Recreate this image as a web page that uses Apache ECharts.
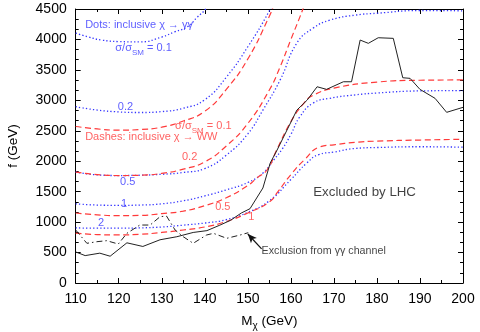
<!DOCTYPE html>
<html><head><meta charset="utf-8">
<script src="https://cdn.jsdelivr.net/npm/echarts/dist/echarts.min.js"></script>
<style>html,body{margin:0;padding:0;background:#fff}#c{width:480px;height:332px}</style>
</head><body><div id="c"></div>
<script>
// ---- data ----
const xRange = [110, 200];
const yRange = [0, 4500];
// blue dotted: inclusive chi -> gamma gamma, sigma/sigma_SM contours
const gg01 = [[110,4105],[113,4040],[116,3990],[120,3965],[125,3960],[130,4040],[133,4125],[136,4210],[138.3,4370],[140.2,4500],[141,4620]];
const gg02 = [[110,2895],[115,2840],[120,2810],[125,2800],[130,2815],[135,2870],[140,3010],[145,3380],[150,3880],[155,4470],[156,4650]];
const gg05 = [[110,1823],[115,1775],[120,1765],[125,1770],[130,1785],[135,1815],[140,1880],[145,2100],[150,2450],[153.5,2840],[157.5,3333],[161.4,3941],[165.2,4187],[169.1,4318],[175,4400],[180,4430],[190,4475],[200,4470]];
const gg1  = [[110,1300],[115,1280],[120,1275],[125,1280],[130,1300],[135,1350],[140,1430],[145,1530],[150,1650],[153.5,1806],[156,2020],[158,2200],[160,2440],[162.1,2731],[165.2,2956],[169,3033],[175,3090],[180,3120],[190,3155],[200,3160]];
const gg2  = [[110,905],[115,900],[120,900],[125,905],[130,920],[135,950],[140,985],[145,1040],[150,1160],[155,1350],[160,1700],[163.7,1970],[166.5,2110],[170,2150],[175,2210],[180,2225],[190,2238],[200,2230]];
// red dashed: inclusive chi -> WW
const ww01 = [[110,2570],[115,2530],[120,2510],[125,2520],[130,2560],[135,2660],[140,2820],[145,3180],[150,3680],[155,4380],[156,4560]];
const ww02 = [[110,1820],[115,1780],[120,1765],[125,1770],[130,1800],[135,1870],[140,1990],[145,2250],[150,2620],[155,3170],[157.5,3550],[160,4000],[162.7,4480],[163.5,4650]];
const ww05 = [[110,1150],[115,1120],[120,1105],[125,1110],[130,1140],[135,1180],[140,1270],[145,1400],[150,1600],[152,1720],[154.5,1860],[156.7,2184],[160,2650],[163,2950],[165,3077],[170,3200],[180,3300],[190,3330],[200,3335]];
const ww1  = [[110,820],[115,795],[120,790],[125,800],[130,830],[135,870],[140,920],[145,1010],[150,1150],[155,1330],[157,1500],[160,1780],[163.1,2020],[166.8,2238],[170,2270],[175,2310],[180,2330],[190,2348],[200,2360]];
// black solid: excluded by LHC
const lhc = [[110,510],[112.2,450],[115.6,490],[118,440],[121.9,660],[125.6,600],[129.6,710],[133.5,760],[137.3,830],[140.5,860],[143.5,950],[146,1030],[148.5,1150],[150.5,1220],[153.5,1560],[155.2,1970],[156.8,2184],[161.4,2840],[163.8,3005],[166.1,3223],[168.3,3180],[172.2,3305],[174.1,3305],[176.1,3990],[178,3936],[180.3,4028],[183.8,4018],[186,3371],[187.7,3361],[190,3180],[193.5,3033],[196.2,2803],[200,2885]];
// black dash-dot: exclusion from gamma gamma channel
const ggExcl = [[110,870],[112.6,652],[114.9,678],[117.2,695],[119.9,640],[121.9,816],[124.9,952],[127.3,952],[129.6,1089],[131.1,1100],[133.1,870],[135,760],[137.3,652],[140.4,788],[142,816],[145.1,734],[148.2,788],[150.1,826]];
const arrowFrom = [153.2, 560];
const arrowTo = [150.0, 805];

const BLUE = '#3535ff', RED = '#ff3a3a', FONT = 'Liberation Sans, Arial, sans-serif';

// annotation texts: [x, y, text, color, size, hasSubscript]
const notes = [
  [112.2, 4236, 'Dots: inclusive χ → γγ', BLUE, 11, false],
  [119.2, 3859, 'σ/σ{s|SM}{n| = 0.1}', BLUE, 11, true],
  [119.8, 2890, '0.2', BLUE, 11, false],
  [133.1, 2578, 'σ/σ{s|SM}{n| = 0.1}', RED, 11, true],
  [112.2, 2397, 'Dashes: inclusive χ → WW', RED, 11, false],
  [134.7, 2069, '0.2', RED, 11, false],
  [120.3, 1658, '0.5', BLUE, 11, false],
  [120.5, 1297, '1', BLUE, 11, false],
  [142.4, 1248, '0.5', RED, 11, false],
  [115.2, 985, '2', BLUE, 11, false],
  [150.1, 1084, '1', RED, 11, false],
  [165.2, 1494, 'Excluded by LHC', '#111', 13.3, false],
  [153.2, 525, 'Exclusion from γγ channel', '#111', 10.7, false]
];

function curve(name, data, color, dash, width, smooth) {
  return {name, type:'line', data, showSymbol:false, symbol:'none', smooth: smooth,
    lineStyle:{color, width, type:dash, cap:'butt'}, silent:true, animation:false, z:3};
}

const series = [
  curve('gg01', gg01, BLUE, [1.3,2.2], 1.3, 0.5),
  curve('gg02', gg02, BLUE, [1.3,2.2], 1.3, 0.5),
  curve('gg05', gg05, BLUE, [1.3,2.2], 1.3, 0.5),
  curve('gg1',  gg1,  BLUE, [1.3,2.2], 1.3, 0.5),
  curve('gg2',  gg2,  BLUE, [1.3,2.2], 1.3, 0.5),
  curve('ww01', ww01, RED, [6,3.5], 1.2, 0.5),
  curve('ww02', ww02, RED, [6,3.5], 1.2, 0.5),
  curve('ww05', ww05, RED, [6,3.5], 1.2, 0.5),
  curve('ww1',  ww1,  RED, [6,3.5], 1.2, 0.5),
  curve('lhc', lhc, '#222', 'solid', 1, false),
  Object.assign(curve('ggExcl', ggExcl, '#222', [6,3,1.5,3], 1, false), {
    markLine: {silent:true, animation:false, symbol:['none','arrow'], symbolSize:[6,9],
      label:{show:false}, lineStyle:{color:'#111', width:1.2, type:'solid'},
      data:[[{coord:arrowFrom},{coord:arrowTo}]]}
  }),
  {
    type:'scatter', symbolSize:0, silent:true, animation:false, z:10, clip:false,
    data: notes.map(n => ({
      value:[n[0], n[1]],
      label:{show:true, position:'right', distance:0,
        formatter: n[5] ? '{n|σ/σ}' + n[2].slice(3) : n[2],
        color:n[3], fontSize:n[4], fontFamily:FONT,
        lineHeight: n[5] ? 18 : undefined,
        rich: n[5] ? {
          n:{color:n[3], fontSize:n[4], fontFamily:FONT, lineHeight:18},
          s:{color:n[3], fontSize:8, fontFamily:FONT, lineHeight:9, verticalAlign:'bottom'}
        } : undefined}
    }))
  }
];

const axisCommon = {
  axisLine:{show:true, onZero:false, lineStyle:{color:'#000', width:1}},
  splitLine:{show:false},
};
const plainNum = v => String(v);

const option = {
  animation:false,
  backgroundColor:'#fff',
  grid:{left:75.7, right:17, top:9, bottom:49, outerBoundsMode:'none', containLabel:false},
  xAxis:[
    Object.assign({type:'value', position:'bottom', min:xRange[0], max:xRange[1], interval:10,
      axisTick:{inside:true, length:5, lineStyle:{color:'#000'}},
      minorTick:{show:true, splitNumber:2, length:3, lineStyle:{color:'#000'}},
      axisLabel:{color:'#000', fontSize:14, fontFamily:FONT, margin:9, formatter:plainNum, showMinLabel:true, showMaxLabel:true, hideOverlap:false},
      name:'{n|M}{s|χ}{n| (GeV)}', nameLocation:'middle', nameGap:28,
      nameTextStyle:{color:'#000', fontSize:13, fontFamily:FONT, lineHeight:20,
        rich:{n:{fontSize:13.5, fontFamily:FONT, color:'#000', lineHeight:20},
              s:{fontSize:10, fontFamily:FONT, color:'#000', lineHeight:10, verticalAlign:'bottom'}}}
    }, axisCommon),
    Object.assign({type:'value', position:'top', min:xRange[0], max:xRange[1], interval:10,
      axisTick:{inside:true, length:5, lineStyle:{color:'#000'}},
      minorTick:{show:true, splitNumber:2, length:3, lineStyle:{color:'#000'}},
      axisLabel:{show:false}}, axisCommon)
  ],
  yAxis:[
    Object.assign({type:'value', position:'left', min:yRange[0], max:yRange[1], interval:500,
      axisTick:{inside:true, length:5, lineStyle:{color:'#000'}},
      minorTick:{show:true, splitNumber:3, length:3, lineStyle:{color:'#000'}},
      axisLabel:{color:'#000', fontSize:14, fontFamily:FONT, margin:9, formatter:plainNum, showMinLabel:true, showMaxLabel:true, hideOverlap:false},
      name:'f (GeV)', nameLocation:'middle', nameGap:55,
      nameTextStyle:{color:'#000', fontSize:13.5, fontFamily:FONT}}, axisCommon),
    Object.assign({type:'value', position:'right', min:yRange[0], max:yRange[1], interval:500,
      axisTick:{inside:true, length:5, lineStyle:{color:'#000'}},
      minorTick:{show:true, splitNumber:3, length:3, lineStyle:{color:'#000'}},
      axisLabel:{show:false}}, axisCommon)
  ],
  series: series
};

const chart = echarts.init(document.getElementById('c'), null, {renderer:'canvas'});
chart.setOption(option);
</script>
</body></html>
